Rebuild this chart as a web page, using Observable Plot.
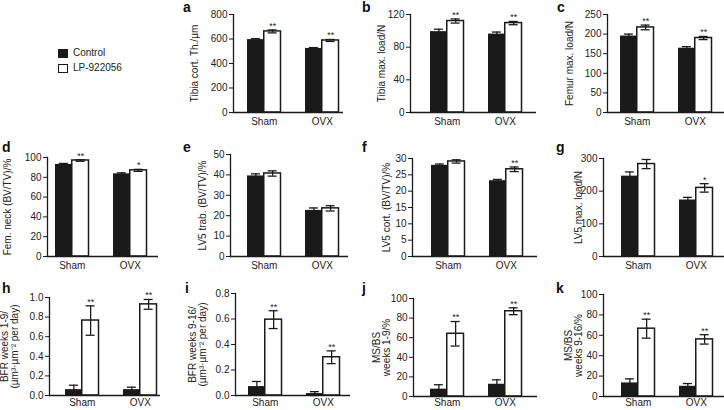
<!DOCTYPE html>
<html><head><meta charset="utf-8">
<script src="https://cdn.jsdelivr.net/npm/d3@7"></script>
<script src="https://cdn.jsdelivr.net/npm/@observablehq/plot@0.6"></script>
<style>
html, body {margin:0; padding:0; background:#fff; overflow:hidden;}
#fig {position:relative; width:724px; height:410px; overflow:hidden; font-family:"Liberation Sans", Arial, sans-serif; color:#222; background:#fff;}
.panel {position:absolute;}
.letter {position:absolute; font-weight:bold; font-size:14px; line-height:14px; color:#111;}
.legend-item {position:absolute; font-size:10px; line-height:10px; display:flex; align-items:center; white-space:nowrap;}
.swatch {width:8px; height:7px; border:1px solid #1a1a1a; margin-right:5px;}
</style></head>
<body><div id="fig"></div>
<script>
// ---- categories ----
const groups = ["Sham", "OVX"];
const treatments = ["Control", "LP-922056"];
// order of values: Sham-Control, Sham-LP, OVX-Control, OVX-LP

// a
const aMean = [595, 662, 523, 588];
const aErr = [8, 12, 7, 8];
const aStar = ["", "**", "", "**"];
const aTicks = [0, 200, 400, 600, 800];
const aLabel = "Tibia cort. Th./µm";
// b
const bMean = [99, 112, 96, 109.5];
const bErr = [3, 2.5, 2.5, 2];
const bStar = ["", "**", "", "**"];
const bTicks = [0, 40, 80, 120];
const bLabel = "Tibia max. load/N";
// c
const cMean = [195, 217, 164, 190];
const cErr = [5, 6, 4, 4];
const cStar = ["", "**", "", "**"];
const cTicks = [0, 50, 100, 150, 200, 250];
const cLabel = "Femur max. load/N";
// d
const dMean = [93, 97, 83.5, 87];
const dErr = [1, 0.8, 1, 1];
const dStar = ["", "**", "", "*"];
const dTicks = [0, 20, 40, 60, 80, 100];
const dLabel = "Fem. neck (BV/TV)/%";
// e
const eMean = [39.5, 40.7, 22.6, 23.6];
const eErr = [1, 1.3, 1.2, 1.3];
const eStar = ["", "", "", ""];
const eTicks = [0, 10, 20, 30, 40, 50];
const eLabel = "LV5 trab. (BV/TV)/%";
// f
const fMean = [27.9, 29.1, 23.2, 26.7];
const fErr = [0.4, 0.5, 0.4, 0.7];
const fStar = ["", "", "", "**"];
const fTicks = [0, 5, 10, 15, 20, 25, 30];
const fLabel = "LV5 cort. (BV/TV)/%";
// g
const gMean = [246, 283, 173, 210];
const gErr = [13, 14, 8, 13];
const gStar = ["", "", "", "*"];
const gTicks = [0, 100, 200, 300];
const gLabel = "LV5 max. load/N";
// h
const hMean = [0.06, 0.765, 0.06, 0.93];
const hErr = [0.045, 0.15, 0.025, 0.05];
const hStar = ["", "**", "", "**"];
const hTicks = [0, 0.2, 0.4, 0.6, 0.8, 1.0];
const hLabel = "BFR weeks 1-9/\n(µm³·µm⁻² per day)";
// i
const iMean = [0.07, 0.595, 0.015, 0.30];
const iErr = [0.04, 0.07, 0.015, 0.05];
const iStar = ["", "**", "", "**"];
const iTicks = [0, 0.2, 0.4, 0.6, 0.8];
const iLabel = "BFR weeks 9-16/\n(µm³·µm⁻² per day)";
// j
const jMean = [7.5, 64, 12.5, 87];
const jErr = [4.5, 12.5, 4.5, 3.5];
const jStar = ["", "**", "", "**"];
const jTicks = [0, 20, 40, 60, 80, 100];
const jLabel = "MS/BS\nweeks 1-9/%";
// k
const kMean = [13.3, 66.5, 10, 56];
const kErr = [4, 9.3, 2.7, 4.6];
const kStar = ["", "**", "", "**"];
const kTicks = [0, 20, 40, 60, 80, 100];
const kLabel = "MS/BS\nweeks 9-16/%";

// ---- layout (pixel geometry of each panel) ----
const layout = {
  a: {ax: 233, ae: 343, bs: 247, yTop: 14, y0: 112, lo: 43, lx: 183, ly: 12, tp: 5},
  b: {ax: 410, ae: 536, bs: 430, yTop: 14, y0: 112, lo: 33, lx: 362, ly: 12, tp: 5},
  c: {ax: 607, ae: 724, bs: 620, yTop: 14, y0: 112, lo: 42, lx: 557, ly: 12, tp: 5},
  d: {ax: 47, ae: 158, bs: 55, yTop: 157, y0: 256, lo: 44, lx: 2, ly: 152, tp: 5},
  e: {ax: 230, ae: 348, bs: 247, yTop: 154, y0: 256, lo: 32, lx: 183, ly: 152, tp: 5},
  f: {ax: 412, ae: 537, bs: 431, yTop: 158, y0: 256, lo: 30, lx: 362, ly: 152, tp: 5},
  g: {ax: 603, ae: 724, bs: 621, yTop: 158, y0: 256, lo: 29, lx: 556, ly: 152, tp: 5},
  h: {ax: 49, ae: 160, bs: 65, yTop: 297, y0: 395, lo: 49, lx: 2, ly: 293, tp: 3},
  i: {ax: 235, ae: 350, bs: 248, yTop: 293, y0: 395, lo: 47, lx: 185, ly: 293, tp: 3},
  j: {ax: 413, ae: 537, bs: 430, yTop: 298, y0: 396, lo: 41, lx: 362, ly: 293, tp: 2.5},
  k: {ax: 603, ae: 724, bs: 621, yTop: 294, y0: 396, lo: 39, lx: 556, ly: 293, tp: 2.5}
};

const panels = [
  {key: "a", mean: aMean, err: aErr, star: aStar, ticks: aTicks, label: aLabel},
  {key: "b", mean: bMean, err: bErr, star: bStar, ticks: bTicks, label: bLabel},
  {key: "c", mean: cMean, err: cErr, star: cStar, ticks: cTicks, label: cLabel},
  {key: "d", mean: dMean, err: dErr, star: dStar, ticks: dTicks, label: dLabel},
  {key: "e", mean: eMean, err: eErr, star: eStar, ticks: eTicks, label: eLabel},
  {key: "f", mean: fMean, err: fErr, star: fStar, ticks: fTicks, label: fLabel},
  {key: "g", mean: gMean, err: gErr, star: gStar, ticks: gTicks, label: gLabel},
  {key: "h", mean: hMean, err: hErr, star: hStar, ticks: hTicks, label: hLabel, fmt: d3.format(".1f")},
  {key: "i", mean: iMean, err: iErr, star: iStar, ticks: iTicks, label: iLabel, fmt: d3.format(".1f")},
  {key: "j", mean: jMean, err: jErr, star: jStar, ticks: jTicks, label: jLabel},
  {key: "k", mean: kMean, err: kErr, star: kStar, ticks: kTicks, label: kLabel}
];

const fig = document.getElementById("fig");
const INK = "#1a1a1a";
const STEP = 58, GW = 33.5, CAP = 4.5;
const mL = 52, mR = 1, mT = 16, mB = 22;

for (const p of panels) {
  const L = layout[p.key];
  const R = L.ae - L.ax;
  const pi = 1 - GW / STEP;
  const po = (R / STEP - 2 + pi) / 2;
  const align = (L.bs - L.ax) / (R - STEP * (2 - pi));
  const rows = groups.flatMap((grp, i) => treatments.map((t, j) => ({
    group: grp, treatment: t, mean: p.mean[2 * i + j], err: p.err[2 * i + j], star: p.star[2 * i + j]
  })));
  const ctrl = rows.filter(d => d.treatment === "Control");
  const lp = rows.filter(d => d.treatment !== "Control");
  const hi = d => d.mean + d.err, lo = d => Math.max(0, d.mean - d.err);
  const q = GW / 4;

  const chart = Plot.plot({
    width: mL + R + mR,
    height: mT + (L.y0 - L.yTop) + mB,
    marginLeft: mL, marginRight: mR, marginTop: mT, marginBottom: mB,
    style: {background: "transparent", overflow: "visible", fontFamily: "'Liberation Sans', Arial, sans-serif", fontSize: "10px", color: "#222"},
    x: {domain: groups, paddingInner: pi, paddingOuter: po, align, round: false},
    y: {domain: [0, p.ticks[p.ticks.length - 1]]},
    marks: [
      Plot.barY(ctrl, {x: "group", y: "mean", fill: INK, insetRight: GW / 2}),
      Plot.barY(lp, {x: "group", y: "mean", fill: "white", stroke: INK, strokeWidth: 1.5, insetLeft: GW / 2}),
      Plot.ruleX(ctrl, {x: "group", y1: lo, y2: hi, dx: -q, stroke: INK, strokeWidth: 1.3}),
      Plot.ruleX(lp, {x: "group", y1: lo, y2: hi, dx: q, stroke: INK, strokeWidth: 1.3}),
      Plot.tickY(ctrl, {x: "group", y: hi, insetLeft: q - CAP, insetRight: 3 * q - CAP, stroke: INK, strokeWidth: 1.3}),
      Plot.tickY(ctrl, {x: "group", y: lo, insetLeft: q - CAP, insetRight: 3 * q - CAP, stroke: INK, strokeWidth: 1.3}),
      Plot.tickY(lp, {x: "group", y: hi, insetLeft: 3 * q - CAP, insetRight: q - CAP, stroke: INK, strokeWidth: 1.3}),
      Plot.tickY(lp, {x: "group", y: lo, insetLeft: 3 * q - CAP, insetRight: q - CAP, stroke: INK, strokeWidth: 1.3}),
      Plot.text(rows.filter(d => d.star && d.treatment === "Control"), {x: "group", y: hi, text: "star", dx: -q, dy: -4, fontSize: 9, lineAnchor: "middle"}),
      Plot.text(rows.filter(d => d.star && d.treatment !== "Control"), {x: "group", y: hi, text: "star", dx: q, dy: -4, fontSize: 9, lineAnchor: "middle"}),
      Plot.ruleY([0], {stroke: INK, strokeWidth: 1.3}),
      Plot.frame({anchor: "left", stroke: INK, strokeWidth: 1.3}),
      Plot.axisY({ticks: p.ticks, tickSize: 4, tickPadding: 2, tickFormat: p.fmt, label: p.label,
                  labelAnchor: "center", labelArrow: "none", labelOffset: L.lo, fontSize: 10, stroke: INK}),
      Plot.axisX({tickSize: 0, tickPadding: L.tp, label: null, fontSize: 10})
    ]
  });
  chart.classList.add("panel");
  chart.style.left = (L.ax - mL) + "px";
  chart.style.top = (L.yTop - mT) + "px";
  fig.appendChild(chart);

  const letter = document.createElement("div");
  letter.className = "letter";
  letter.textContent = p.key;
  letter.style.left = L.lx + "px";
  letter.style.top = (L.ly - 12) + "px";
  fig.appendChild(letter);
}

// legend
const legendFills = [INK, "white"];
treatments.forEach((t, i) => {
  const item = document.createElement("div");
  item.className = "legend-item";
  item.style.left = "58px";
  item.style.top = (i === 0 ? 48 : 63) + "px";
  const sw = document.createElement("span");
  sw.className = "swatch";
  sw.style.background = legendFills[i];
  const tx = document.createElement("span");
  tx.textContent = t;
  item.appendChild(sw);
  item.appendChild(tx);
  fig.appendChild(item);
});
</script></body></html>
